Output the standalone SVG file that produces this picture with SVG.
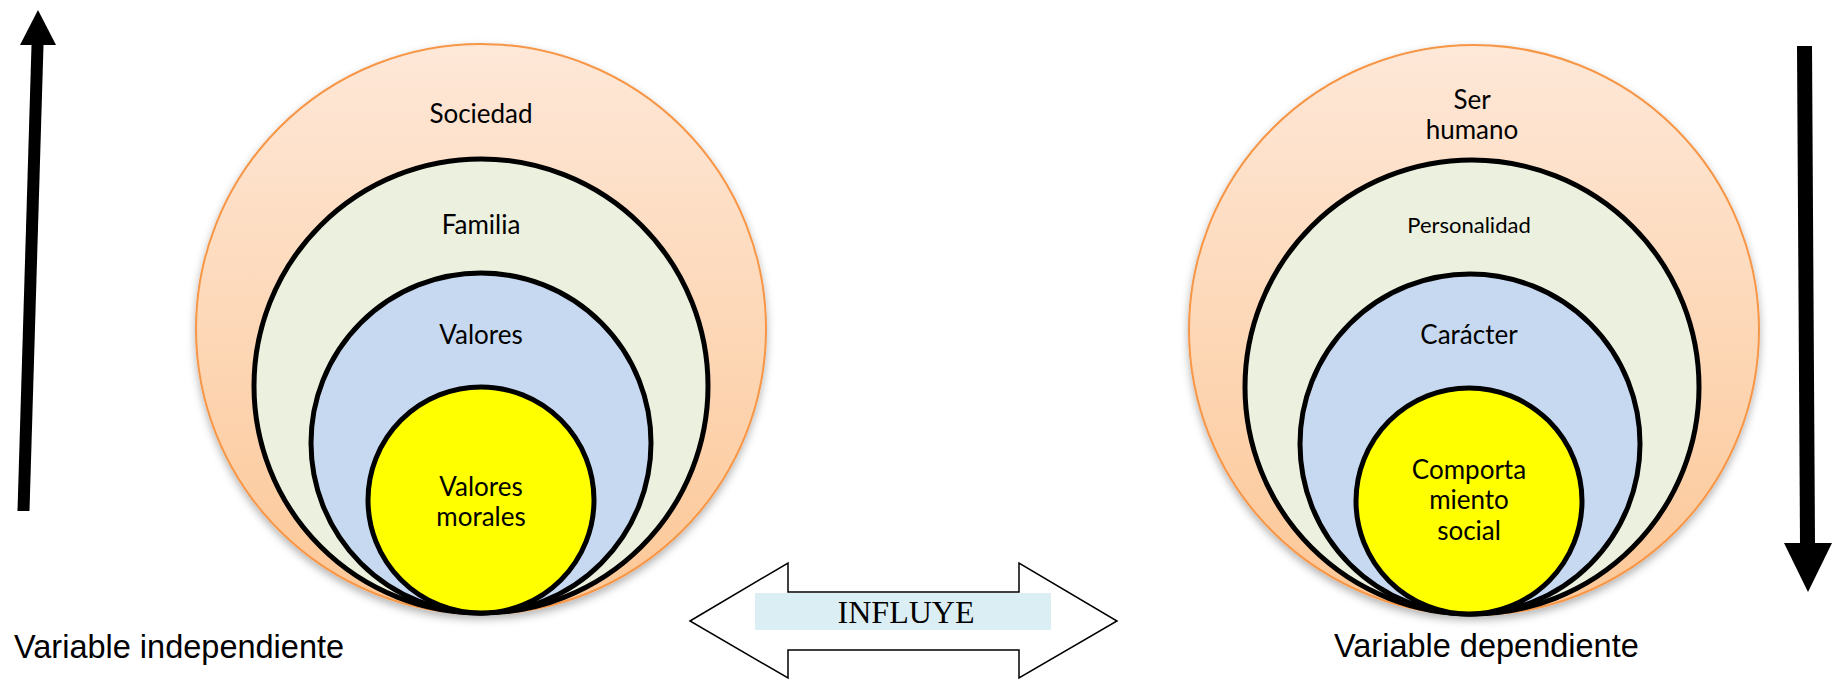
<svg xmlns="http://www.w3.org/2000/svg" width="1843" height="682" viewBox="0 0 1843 682">
<defs>
<linearGradient id="peach" x1="0" y1="0" x2="0" y2="1">
<stop offset="0" stop-color="#FEE8D8"/>
<stop offset="1" stop-color="#FCC796"/>
</linearGradient>
<filter id="sh" x="-10%" y="-10%" width="120%" height="125%">
<feDropShadow dx="0" dy="4" stdDeviation="4" flood-color="#000" flood-opacity="0.3"/>
</filter>
<style>
.outer{fill:url(#peach);stroke:#F79646;stroke-width:2}
.fam{fill:#EBF1DE;stroke:#000;stroke-width:5}
.val{fill:#C6D9F1;stroke:#000;stroke-width:5}
.yel{fill:#FFFF00;stroke:#000;stroke-width:5}
.lbl{font-family:Lato,"Open Sans",sans-serif;font-size:26px;fill:#000;text-anchor:middle}
.small{font-size:22px}
.var{font-family:"Liberation Sans",Arial,sans-serif;font-size:32.5px;fill:#000}
.inf{font-family:"Liberation Serif","Times New Roman",serif;font-size:32px;fill:#000;text-anchor:middle}
</style>
</defs>
<rect width="1843" height="682" fill="#fff"/>

<g id="left-circles">
<g id="sociedad">
<circle class="outer" cx="481" cy="329" r="285" filter="url(#sh)"/>
<text class="lbl" x="481" y="123">Sociedad</text>
</g>
<g id="familia">
<circle class="fam" cx="481" cy="386" r="227"/>
<text class="lbl" x="481" y="234">Familia</text>
</g>
<g id="valores">
<circle class="val" cx="481" cy="443" r="170"/>
<text class="lbl" x="481" y="344">Valores</text>
</g>
<g id="valores-morales">
<circle class="yel" cx="481" cy="500" r="113"/>
<text class="lbl" x="481" y="496">Valores</text>
<text class="lbl" x="481" y="526">morales</text>
</g>
</g>

<g id="right-circles">
<g id="ser-humano">
<circle class="outer" cx="1474" cy="330" r="285" filter="url(#sh)"/>
<text class="lbl" x="1472" y="109">Ser</text>
<text class="lbl" x="1472" y="139">humano</text>
</g>
<g id="personalidad">
<circle class="fam" cx="1472" cy="387" r="227"/>
<text class="lbl small" x="1469" y="233">Personalidad</text>
</g>
<g id="caracter">
<circle class="val" cx="1470" cy="444" r="170"/>
<text class="lbl" x="1469" y="344">Carácter</text>
</g>
<g id="comportamiento">
<circle class="yel" cx="1469" cy="501" r="113"/>
<text class="lbl" x="1469" y="479">Comporta</text>
<text class="lbl" x="1469" y="509">miento</text>
<text class="lbl" x="1469" y="540">social</text>
</g>
</g>

<g id="connectors">
<g id="arrow-up">
<polygon points="17.5,511 29.5,511 43.5,45 31.5,45" fill="#000"/>
<polygon points="20,45 56,45 38,10" fill="#000"/>
</g>
<g id="arrow-down">
<polygon points="1797,46 1812,46 1815,543 1800,543" fill="#000"/>
<polygon points="1784,543 1832,543 1808,592" fill="#000"/>
</g>
<g id="influye">
<polygon points="690,621 788,563 788,592 1019,592 1019,563 1117,621 1019,678 1019,650 788,650 788,678" fill="#fff" stroke="#000" stroke-width="1.5" stroke-linejoin="miter"/>
<rect x="755" y="593" width="296" height="37" fill="#DAEEF3"/>
<text class="inf" x="906" y="623">INFLUYE</text>
</g>
</g>

<g id="labels">
<text class="var" x="14" y="658">Variable independiente</text>
<text class="var" x="1334" y="657">Variable dependiente</text>
</g>
</svg>
